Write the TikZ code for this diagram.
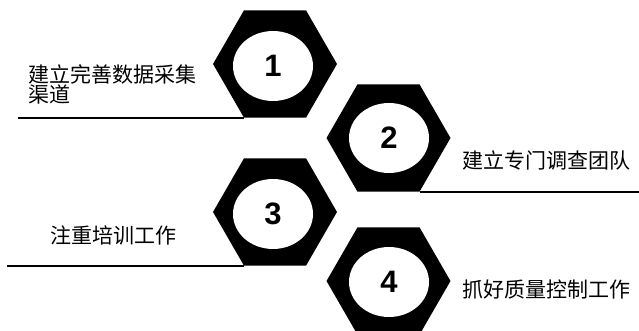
\documentclass[tikz,border=0pt]{standalone}
\usepackage{fontspec}
\newfontfamily\cjk{Noto Sans CJK SC}
\newfontfamily\numfont{Liberation Sans}
\usetikzlibrary{shapes.geometric}
\tikzset{
  nut/.style={regular polygon, regular polygon sides=6, fill=black,
    inner sep=0pt, minimum size=124pt},
  hole/.style={ellipse, fill=white, inner sep=0pt, minimum width=80pt,
    minimum height=70pt, font=\numfont\bfseries\fontsize{31}{31}\selectfont},
  caption/.style={font=\cjk\fontsize{21}{20}\selectfont, inner sep=0pt,
    anchor=west, align=left},
  rule/.style={line width=1.5pt}
}
\begin{document}
\begin{tikzpicture}[x=1pt,y=-1pt]
      \clip (0,0) rectangle (639,331);
      \draw
        (275,64) node[nut] (hex1){}
        (388.5,138) node[nut] (hex2){}
        (275,212) node[nut] (hex3){}
        (388.5,281) node[nut] (hex4){};
      \draw
        (273,66) node[hole] (num1){1}
        (389,138) node[hole] (num2){2}
        (273,214) node[hole] (num3){3}
        (389,282) node[hole] (num4){4};
      \draw
        (28,84) node[caption] (text1){建立完善数据采集\\渠道}
        (462,160) node[caption] (text2){建立专门调查团队}
        (50,235) node[caption] (text3){注重培训工作}
        (462,290) node[caption] (text4){抓好质量控制工作};
      \coordinate (end1) at (18,116);
      \coordinate (end2) at (639,192);
      \coordinate (end3) at (7,265);
      \begin{scope}[rule]
        \draw (end1 |- hex1.corner 4) to (hex1.corner 4);
        \draw (hex2.corner 5) to (end2 |- hex2.corner 5);
        \draw (end3 |- hex3.corner 4) to (hex3.corner 4);
      \end{scope}
    \end{tikzpicture}
\end{document}
